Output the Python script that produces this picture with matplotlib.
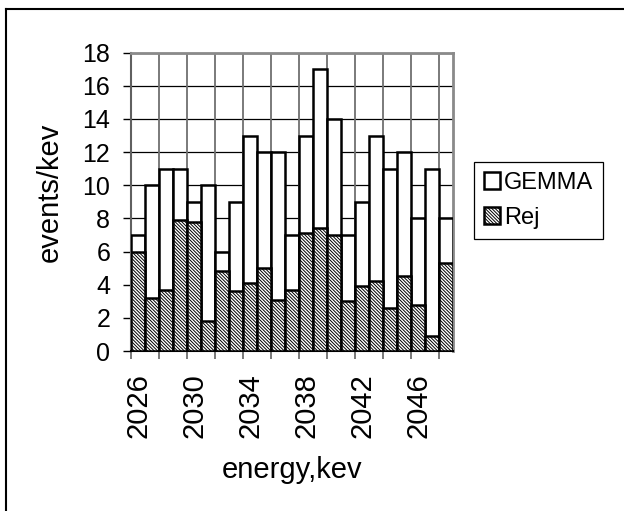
import matplotlib
matplotlib.use("Agg")
import matplotlib.pyplot as plt
import numpy as np
from matplotlib.lines import Line2D

years = list(range(2026, 2049))
gemma = [7, 10, 11, 11, 9, 10, 6, 9, 13, 12, 12, 7, 13, 17, 14, 7, 9, 13, 11, 12, 8, 11, 8]
rej = [6.0, 3.2, 3.7, 7.9, 7.8, 1.8, 4.8, 3.6, 4.1, 5.0, 3.1, 3.7, 7.1, 7.4, 7.0, 3.0,
       3.9, 4.2, 2.6, 4.5, 2.8, 0.9, 5.3]
label_years = [2026, 2030, 2034, 2038, 2042, 2046]

plt.rcParams['font.family'] = ['Liberation Sans', 'DejaVu Sans']
plt.rcParams['hatch.linewidth'] = 0.7

fig = plt.figure(figsize=(6.24, 5.11), dpi=100)
ax = fig.add_axes([131 / 624, 1 - 351 / 511, (453.3 - 131) / 624, (351 - 52.7) / 511])

x = np.arange(len(years))
ax.bar(x, gemma, width=1.0, color='white', edgecolor='black', linewidth=1.8,
       label='GEMMA', zorder=3)
ax.bar(x, rej, width=1.0, color='white', edgecolor='black', linewidth=1.8,
       hatch='\\' * 10, label='Rej', zorder=4)

ax.set_xlim(-0.5, len(years) - 0.5)
ax.set_ylim(0, 18)
ax.set_yticks(range(0, 19, 2))
ax.tick_params(axis='y', labelsize=18, length=6, width=1, colors='black', pad=9)

# boundary ticks every two categories, labels every four
bounds = np.arange(-0.5, len(years) - 1, 2)
ax.set_xticks(bounds)
ax.set_xticklabels([])
ax.tick_params(axis='x', which='major', length=6, width=1.3, color='#707070')
ax.set_xticks([years.index(y) for y in label_years], minor=True)
ax.set_xticklabels([str(y) for y in label_years], minor=True, rotation=90, fontsize=21)
ax.tick_params(axis='x', which='minor', length=0, pad=16)

for yv in range(2, 19, 2):
    ax.axhline(yv, color='black', linewidth=0.9, zorder=1)
for xv in bounds[1:]:
    ax.axvline(xv, color='#707070', linewidth=1.3, zorder=1)

for s in ['top', 'right']:
    ax.spines[s].set_color('#8a8a8a')
    ax.spines[s].set_linewidth(2)
ax.spines['left'].set_color('#606060')
ax.spines['left'].set_linewidth(1.5)
ax.spines['bottom'].set_color('black')
ax.spines['bottom'].set_linewidth(1.5)

fig.text(50 / 624, 1 - 192 / 511, 'events/kev', rotation=90, fontsize=21,
         ha='center', va='center')
fig.text(292 / 624, 1 - 470 / 511, 'energy,kev', fontsize=21, ha='center', va='center')

leg = fig.legend(loc='upper left', bbox_to_anchor=(474 / 624, 1 - 162 / 511),
                 fontsize=17, frameon=True, fancybox=False, edgecolor='black',
                 framealpha=1, borderaxespad=0, handlelength=0.7, handleheight=0.7,
                 handletextpad=0.15, borderpad=0.42, labelspacing=0.55)
leg.get_frame().set_linewidth(0.9)

# outer chart frame (left and top edges visible)
fig.add_artist(Line2D([6 / 624, 6 / 624], [0, 1 - 9 / 511], transform=fig.transFigure,
                      color='black', linewidth=1.5))
fig.add_artist(Line2D([6 / 624, 1], [1 - 9 / 511, 1 - 9 / 511], transform=fig.transFigure,
                      color='black', linewidth=1.5))

fig.savefig('out.png', dpi=100)
